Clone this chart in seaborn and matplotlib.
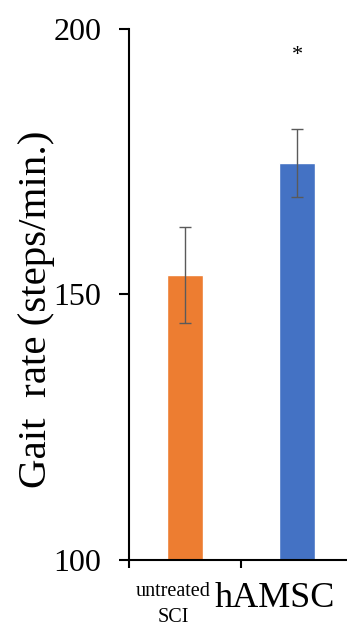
import numpy as np
import pandas as pd
import matplotlib
matplotlib.use("Agg")
import matplotlib.pyplot as plt
import matplotlib.transforms as mtransforms
import seaborn as sns

# values
groups = ["untreated\nSCI", "hAMSC"]
gait_rate = [153.7, 174.8]
gait_err = [9.0, 6.35]
bar_colors = ["#ED7D31", "#4472C4"]
y_ticks = [100, 150, 200]

df = pd.DataFrame({"group": groups, "rate": gait_rate})

sns.set_style("white")
plt.rcParams["font.family"] = ["Liberation Serif", "DejaVu Serif"]
plt.rcParams["text.color"] = "black"
plt.rcParams["xtick.color"] = "black"
plt.rcParams["ytick.color"] = "black"
plt.rcParams["axes.labelcolor"] = "black"

fig = plt.figure(figsize=(3.47, 6.27), dpi=100)
ax = fig.add_axes([129 / 347, 67 / 627, 224 / 347, 531 / 627])

sns.barplot(data=df, x="group", y="rate", hue="group", palette=bar_colors,
            width=0.32, errorbar=None, legend=False, ax=ax, saturation=1)
ax.errorbar(range(len(groups)), gait_rate, yerr=gait_err, fmt="none",
            ecolor="#5a5a5a", elinewidth=1.0, capsize=4, capthick=1.0)

ax.set_ylim(100, 200)
ax.set_xlim(-0.5, 1.5)
ax.set_yticks(y_ticks)
ax.set_yticklabels([str(t) for t in y_ticks], fontsize=23)
ax.tick_params(axis="y", direction="out", length=7, width=1.5, left=True, pad=13)

# category boundary ticks on x, labels centred under bars
ax.set_xticks([-0.5, 0.5, 1.5], minor=True)
ax.tick_params(axis="x", which="minor", direction="out", length=6, width=1.5, bottom=True)
ax.tick_params(axis="x", which="major", length=0, pad=16)
ax.set_xticks([0, 1])
ax.set_xticklabels(groups)
labs = ax.get_xticklabels()
labs[0].set_fontsize(14.5)
labs[0].set_linespacing(1.45)
labs[1].set_fontsize(26)
for lab, dx in zip(labs, [-12, -22]):
    lab.set_transform(lab.get_transform() + mtransforms.ScaledTranslation(dx / 100, 0, fig.dpi_scale_trans))

ax.set_xlabel("")
ax.set_ylabel("Gait  rate (steps/min.)", fontsize=29.5)
ax.yaxis.set_label_coords(-0.33, 0.473)

for s in ["top", "right"]:
    ax.spines[s].set_visible(False)
for s in ["left", "bottom"]:
    ax.spines[s].set_color("black")
    ax.spines[s].set_linewidth(1.5)

ax.text(1, 195, "*", ha="center", va="center", fontsize=16)

fig.savefig("out.png", dpi=100)
